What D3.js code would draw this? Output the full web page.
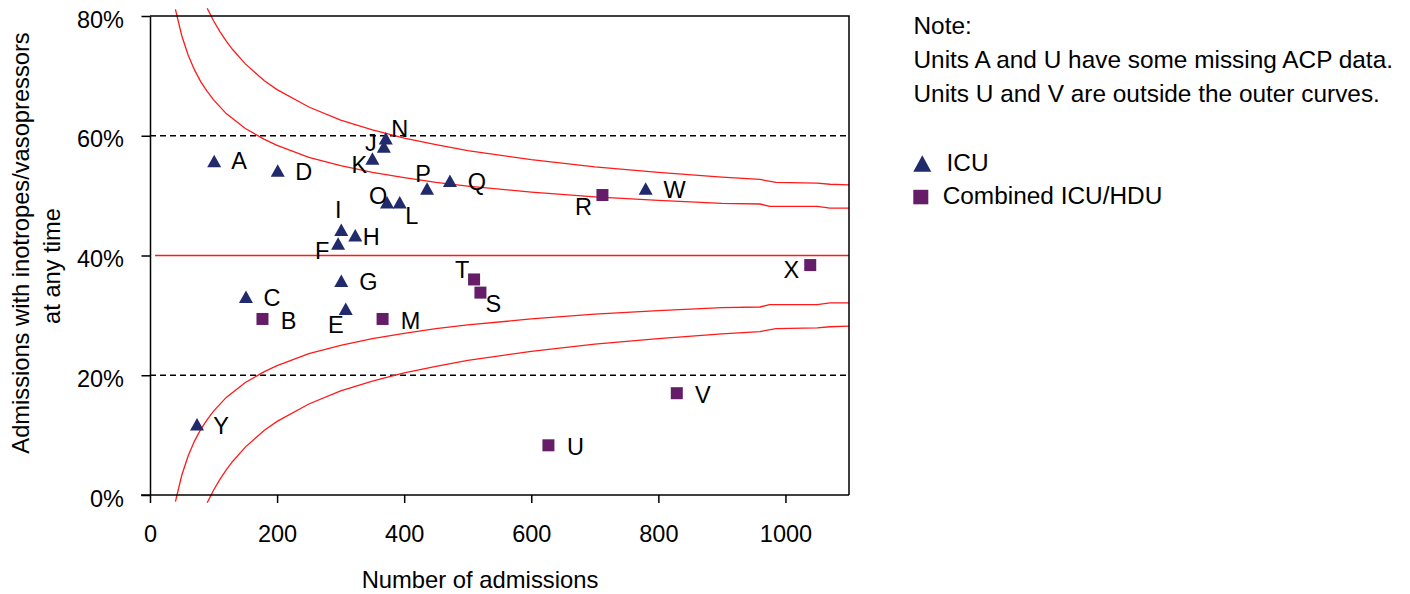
<!DOCTYPE html>
<html>
<head>
<meta charset="utf-8">
<script src="https://cdn.jsdelivr.net/npm/d3@7"></script>
<style>
  html, body { margin: 0; padding: 0; background: #fff; }
  svg { display: block; font-family: "Liberation Sans", Arial, Helvetica, sans-serif; }
</style>
</head>
<body>
<svg id="chart" width="1410" height="594"></svg>
<script>
// ICU units (triangles)
const icuUnits      = ["A", "C", "D", "E", "F", "G", "H", "I", "J", "K", "L", "N", "O", "P", "Q", "W", "Y"];
const icuAdmissions = [101, 151, 201, 308, 296, 301, 323, 301, 368, 350, 393, 371, 373, 436, 472, 780, 74];
const icuRates      = [0.558, 0.331, 0.542, 0.311, 0.420, 0.358, 0.434, 0.443, 0.582, 0.562, 0.489, 0.596, 0.489, 0.512, 0.525, 0.512, 0.118];

// Combined ICU/HDU units (squares)
const comboUnits      = ["B", "M", "R", "S", "T", "U", "V", "X"];
const comboAdmissions = [177, 366, 712, 520, 510, 627, 829, 1039];
const comboRates      = [0.294, 0.294, 0.501, 0.338, 0.360, 0.083, 0.170, 0.384];

// Overall rate (centre line)
const centreN    = [8, 1100];
const centreRate = [0.4, 0.4];

// Inner funnel limits
const innerN     = [40, 50, 60, 70, 80, 90, 100, 120, 150, 180, 200, 250, 300, 350, 400, 450, 500, 600, 700, 800, 900, 960, 975, 1050, 1070, 1100];
const innerUpper = [0.811, 0.767, 0.735, 0.710, 0.690, 0.674, 0.660, 0.637, 0.612, 0.594, 0.584, 0.564, 0.550, 0.539, 0.530, 0.522, 0.516, 0.506, 0.498, 0.492, 0.487, 0.486, 0.482, 0.482, 0.479, 0.479];
const innerLower = [-0.011, 0.033, 0.065, 0.090, 0.110, 0.126, 0.140, 0.163, 0.188, 0.206, 0.216, 0.236, 0.250, 0.261, 0.270, 0.278, 0.284, 0.294, 0.302, 0.308, 0.313, 0.314, 0.318, 0.318, 0.321, 0.321];

// Outer funnel limits
const outerN     = [90, 100, 110, 120, 130, 150, 180, 200, 250, 300, 350, 400, 450, 500, 600, 700, 800, 900, 960, 985, 1050, 1070, 1100];
const outerUpper = [0.813, 0.792, 0.774, 0.758, 0.744, 0.720, 0.692, 0.677, 0.648, 0.626, 0.610, 0.596, 0.585, 0.575, 0.560, 0.548, 0.539, 0.531, 0.527, 0.522, 0.521, 0.519, 0.518];
const outerLower = [-0.013, 0.008, 0.026, 0.042, 0.056, 0.080, 0.108, 0.123, 0.152, 0.174, 0.190, 0.204, 0.215, 0.225, 0.240, 0.252, 0.261, 0.269, 0.273, 0.278, 0.279, 0.281, 0.282];

// Axis ticks and reference lines
const xTicks = [0, 200, 400, 600, 800, 1000];
const yTicks = [0, 0.2, 0.4, 0.6, 0.8];
const dashedLevels = [0.2, 0.6];

const noteLines = [
  "Note:",
  "Units A and U have some missing ACP data.",
  "Units U and V are outside the outer curves."
];

// Label placement relative to each marker (pixels)
const labelOffsets = {
  A: [25, 0], B: [26, 2], C: [26, 1], D: [26, 1], E: [-10, 16], F: [-16, 7],
  G: [27, 1], H: [16, 1], I: [-3, -20], J: [-13, -4], K: [-13, 6], L: [12, 13],
  M: [28, 2], N: [14, -10], O: [-9, -7], P: [-4, -15], Q: [27, 1], R: [-19, 12],
  S: [13, 11], T: [-12, -10], U: [27, 1], V: [26, 1], W: [29, 1], X: [-19, 4], Y: [24, 1]
};

const FONT = 23.5;
const SIDE_FONT = 24.4;
const TRI = "#212a6b";
const SQR = "#641d66";
const RED = "#ff1a1a";

const svg = d3.select("#chart");
const x = d3.scaleLinear().domain([0, 1100]).range([150, 849]);
const y = d3.scaleLinear().domain([0, 0.8]).range([495, 16]);

// dashed reference lines
svg.append("g").selectAll("line").data(dashedLevels).join("line")
  .attr("x1", x(0)).attr("x2", x(1100))
  .attr("y1", d => y(d)).attr("y2", d => y(d))
  .attr("stroke", "#000").attr("stroke-width", 1.3)
  .attr("stroke-dasharray", "6,4");

// funnel curves
const line = d3.line().x(d => x(d[0])).y(d => y(d[1]));
const curves = [
  d3.zip(centreN, centreRate),
  d3.zip(innerN, innerUpper),
  d3.zip(innerN, innerLower),
  d3.zip(outerN, outerUpper),
  d3.zip(outerN, outerLower)
];
svg.append("g").selectAll("path").data(curves).join("path")
  .attr("d", line)
  .attr("fill", "none")
  .attr("stroke", RED)
  .attr("stroke-width", 1.3);

// plot frame (top and right)
svg.append("path")
  .attr("d", `M${x(0)},${y(0.8)}H${x(1100)}V${y(0)}`)
  .attr("fill", "none").attr("stroke", "#000").attr("stroke-width", 1.5);

// axes
const xAxis = svg.append("g")
  .attr("transform", `translate(0,${y(0)})`)
  .call(d3.axisBottom(x).tickValues(xTicks).tickFormat(d3.format("d"))
    .tickSize(8).tickSizeOuter(0).tickPadding(22));
const yAxis = svg.append("g")
  .attr("transform", `translate(${x(0)},0)`)
  .call(d3.axisLeft(y).tickValues(yTicks).tickFormat(d3.format(".0%"))
    .tickSize(8.5).tickSizeOuter(0).tickPadding(17.5));

[xAxis, yAxis].forEach(g => {
  g.select(".domain").attr("stroke", "#000").attr("stroke-width", 1.5);
  g.selectAll(".tick line").attr("stroke", "#000").attr("stroke-width", 1.5);
  g.selectAll(".tick text")
    .attr("fill", "#000")
    .style("font-size", FONT + "px")
    .style("font-family", "'Liberation Sans', Arial, sans-serif");
});
yAxis.selectAll(".tick text").attr("dy", "0.47em");
// extend the bottom axis to the right frame
xAxis.select(".domain").attr("d", `M${x(0) - 9},0H${x(1100)}`);

// triangle marker centred on its bounding box
function trianglePath(cx, cy, w, h) {
  return `M${cx},${cy - h / 2}L${cx + w / 2},${cy + h / 2}L${cx - w / 2},${cy + h / 2}Z`;
}

const icuData = icuUnits.map((u, i) => ({ unit: u, n: icuAdmissions[i], rate: icuRates[i] }));
const comboData = comboUnits.map((u, i) => ({ unit: u, n: comboAdmissions[i], rate: comboRates[i] }));

svg.append("g").selectAll("path").data(icuData).join("path")
  .attr("d", d => trianglePath(x(d.n), y(d.rate), 14, 12.5))
  .attr("fill", TRI);

svg.append("g").selectAll("rect").data(comboData).join("rect")
  .attr("x", d => x(d.n) - 6).attr("y", d => y(d.rate) - 6)
  .attr("width", 12).attr("height", 12)
  .attr("fill", SQR);

// unit labels
svg.append("g").selectAll("text").data(icuData.concat(comboData)).join("text")
  .attr("x", d => x(d.n) + labelOffsets[d.unit][0])
  .attr("y", d => y(d.rate) + labelOffsets[d.unit][1])
  .attr("text-anchor", "middle")
  .attr("dy", "0.36em")
  .style("font-size", FONT + "px")
  .attr("fill", "#000")
  .text(d => d.unit);

// axis titles
svg.append("text")
  .attr("x", 480).attr("y", 588)
  .attr("text-anchor", "middle")
  .style("font-size", "23.8px")
  .text("Number of admissions");

svg.append("text")
  .attr("transform", "translate(28.5,243) rotate(-90)")
  .attr("text-anchor", "middle")
  .style("font-size", "23.7px")
  .text("Admissions with inotropes/vasopressors");
svg.append("text")
  .attr("transform", "translate(60,266) rotate(-90)")
  .attr("text-anchor", "middle")
  .style("font-size", "23.7px")
  .text("at any time");

// note
svg.append("g").selectAll("text").data(noteLines).join("text")
  .attr("x", 913.5)
  .attr("y", (d, i) => 34.3 + i * 33.6)
  .style("font-size", SIDE_FONT + "px")
  .text(d => d);

// legend
const legend = svg.append("g");
legend.append("path").attr("d", trianglePath(922.3, 163.5, 18, 16.5)).attr("fill", TRI);
legend.append("text").attr("x", 946.5).attr("y", 171).style("font-size", SIDE_FONT + "px").text("ICU");
legend.append("rect").attr("x", 913.3).attr("y", 189.8).attr("width", 15).attr("height", 14.5).attr("fill", SQR);
legend.append("text").attr("x", 942.7).attr("y", 204).style("font-size", SIDE_FONT + "px").text("Combined ICU/HDU");
</script>
</body>
</html>
